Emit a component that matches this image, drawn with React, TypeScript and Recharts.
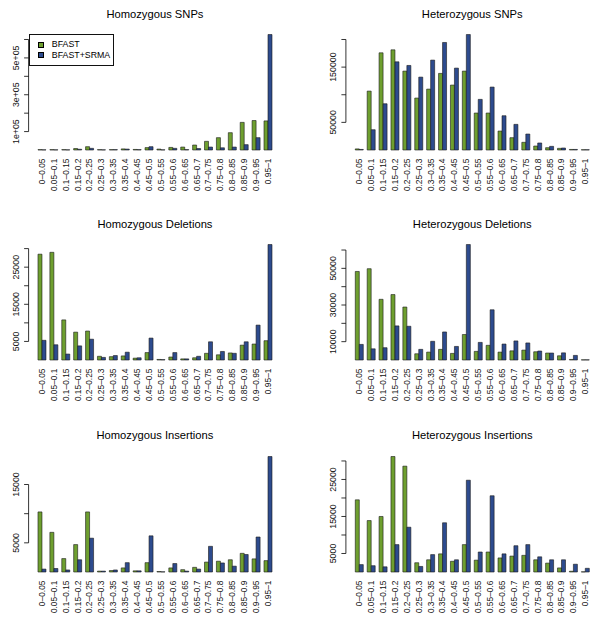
import React from 'react';
import { BarChart, Bar, XAxis, YAxis, ReferenceLine, Legend } from 'recharts';

const categories = [
  '0–0.05', '0.05–0.1', '0.1–0.15', '0.15–0.2', '0.2–0.25', '0.25–0.3', '0.3–0.35',
  '0.35–0.4', '0.4–0.45', '0.45–0.5', '0.5–0.55', '0.55–0.6', '0.6–0.65', '0.65–0.7',
  '0.7–0.75', '0.75–0.8', '0.8–0.85', '0.85–0.9', '0.9–0.95', '0.95–1',
];

const seriesNames = ['BFAST', 'BFAST+SRMA'];
const seriesColors = ['#6e9f2f', '#2d4b8e'];

// Homozygous SNPs
const homSnpBfast = [2000, 2000, 2000, 8000, 18000, 2000, 2000, 6000, 3000, 13000, 5000, 14000, 16000, 27000, 47000, 67000, 94000, 150000, 160000, 158000];
const homSnpSrma = [1000, 1000, 1000, 4000, 9000, 1000, 2000, 5000, 2000, 18000, 1000, 9000, 2000, 8000, 16000, 12000, 16000, 29000, 67000, 627000];
const homSnpTicks = [100000, 200000, 300000, 400000, 500000, 600000];
const homSnpTickLabels = ['1e+05', '', '3e+05', '', '5e+05', ''];

// Heterozygous SNPs
const hetSnpBfast = [2000, 106600, 175900, 181300, 142800, 94000, 110200, 138600, 117500, 142800, 66900, 66900, 34300, 22300, 13900, 7200, 4200, 3000, 1000, 500];
const hetSnpSrma = [1000, 36700, 83700, 159600, 153000, 131900, 162700, 194600, 148200, 209000, 91600, 113900, 62000, 46400, 28900, 12700, 6600, 3600, 1000, 500];
const hetSnpTicks = [50000, 100000, 150000, 200000];
const hetSnpTickLabels = ['50000', '', '150000', ''];

// Homozygous Deletions
const homDelBfast = [28500, 29000, 10800, 7500, 7800, 1000, 900, 1100, 500, 2000, 150, 800, 300, 600, 1800, 1400, 1900, 4000, 4300, 5200];
const homDelSrma = [5300, 4100, 1600, 3800, 5600, 700, 1200, 2100, 600, 5900, 100, 2000, 300, 1000, 4900, 2300, 1800, 4900, 9400, 31100];
const homDelTicks = [5000, 10000, 15000, 20000, 25000, 30000];
const homDelTickLabels = ['5000', '', '15000', '', '25000', ''];

// Heterozygous Deletions
const hetDelBfast = [48300, 49800, 33100, 35700, 28900, 3400, 4300, 5800, 3600, 13900, 4700, 8000, 4300, 5000, 5400, 4500, 3800, 2300, 300, 100];
const hetDelSrma = [8500, 6100, 6700, 18600, 18400, 5800, 10200, 15300, 7400, 63000, 9600, 27400, 8700, 10400, 9300, 4900, 3800, 3900, 2500, 100];
const hetDelTicks = [10000, 20000, 30000, 40000, 50000, 60000];
const hetDelTickLabels = ['10000', '', '30000', '', '50000', ''];

// Homozygous Insertions
const homInsBfast = [10300, 6800, 2300, 4700, 10300, 150, 250, 700, 200, 1600, 80, 700, 400, 800, 1700, 1850, 2100, 3200, 2250, 1950];
const homInsSrma = [500, 600, 350, 2100, 5800, 150, 350, 1600, 200, 6200, 30, 1450, 150, 500, 4400, 1550, 1000, 3000, 6000, 19800];
const homInsTicks = [5000, 10000, 15000];
const homInsTickLabels = ['5000', '', '15000'];

// Heterozygous Insertions
const hetInsBfast = [19500, 13900, 15000, 31200, 28600, 2500, 3300, 4900, 2900, 7400, 3200, 5400, 3800, 4300, 4500, 3300, 2400, 1100, 200, 50];
const hetInsSrma = [2000, 1700, 1400, 7400, 12100, 1500, 4700, 13300, 3300, 24800, 5400, 20600, 4900, 7100, 7400, 4100, 3300, 3300, 2100, 1000];
const hetInsTicks = [5000, 10000, 15000, 20000, 25000, 30000];
const hetInsTickLabels = ['5000', '', '15000', '', '25000', ''];

const FONT = '"Liberation Sans", Arial, Helvetica, sans-serif';
const PANEL_W = 300;
const PANEL_H = 210;
const PLOT_TOP = 29.9;
const BASELINE = 150;
const XAXIS_H = 50;
const PAD_X = 7.4;

type PanelSpec = {
  title: string;
  bfast: number[];
  srma: number[];
  ticks: number[];
  tickLabels: string[];
  left: number;
  top: number;
  plotLeft: number;
  plotRight: number;
  legend?: boolean;
};

const LEFT_COL = { plotLeft: 28.6, plotRight: 281.3 };
const RIGHT_COL = { plotLeft: 45.9, plotRight: 298.6 };

const panels: PanelSpec[] = [
  { title: 'Homozygous SNPs', bfast: homSnpBfast, srma: homSnpSrma, ticks: homSnpTicks, tickLabels: homSnpTickLabels, left: 0, top: 0, ...LEFT_COL, legend: true },
  { title: 'Heterozygous SNPs', bfast: hetSnpBfast, srma: hetSnpSrma, ticks: hetSnpTicks, tickLabels: hetSnpTickLabels, left: 300, top: 0, ...RIGHT_COL },
  { title: 'Homozygous Deletions', bfast: homDelBfast, srma: homDelSrma, ticks: homDelTicks, tickLabels: homDelTickLabels, left: 0, top: 210, ...LEFT_COL },
  { title: 'Heterozygous Deletions', bfast: hetDelBfast, srma: hetDelSrma, ticks: hetDelTicks, tickLabels: hetDelTickLabels, left: 300, top: 210, ...RIGHT_COL },
  { title: 'Homozygous Insertions', bfast: homInsBfast, srma: homInsSrma, ticks: homInsTicks, tickLabels: homInsTickLabels, left: 0, top: 421.5, ...LEFT_COL },
  { title: 'Heterozygous Insertions', bfast: hetInsBfast, srma: hetInsSrma, ticks: hetInsTicks, tickLabels: hetInsTickLabels, left: 300, top: 421.5, ...RIGHT_COL },
];

const XTick = (props: any) => {
  const { x, y, payload } = props;
  const ty = y + 8.5;
  return (
    <text
      x={x}
      y={ty}
      dy="0.35em"
      transform={`rotate(-90 ${x} ${ty})`}
      textAnchor="end"
      fontSize={8.4}
      fontFamily={FONT}
      fill="#111"
    >
      {payload.value}
    </text>
  );
};

const makeYTick = (ticks: number[], labels: string[]) => (props: any) => {
  const { x, y, payload } = props;
  const idx = ticks.indexOf(payload.value);
  const label = idx >= 0 ? labels[idx] : '';
  const lx = x - 10;
  return (
    <g>
      <line x1={x - 4.5} x2={x} y1={y} y2={y} stroke="#000" strokeWidth={0.8} />
      {label ? (
        <text
          x={lx}
          y={y}
          transform={`rotate(-90 ${lx} ${y})`}
          textAnchor="middle"
          fontSize={8.8}
          fontFamily={FONT}
          fill="#111"
        >
          {label}
        </text>
      ) : null}
    </g>
  );
};

const LegendBox = (props: any) => {
  const payload: any[] = props && props.payload && props.payload.length
    ? props.payload
    : seriesNames.map((n, i) => ({ value: n, color: seriesColors[i] }));
  return (
    <div
      style={{
        position: 'relative',
        width: 85,
        height: 32,
        boxSizing: 'border-box',
        border: '1px solid #111',
        background: '#fff',
        fontFamily: FONT,
        fontSize: 8.8,
        color: '#000',
      }}
    >
      {payload.map((item: any, i: number) => (
        <div key={i}>
          <div
            style={{
              position: 'absolute',
              left: 7.5,
              top: 6.5 + i * 10.7,
              width: 6,
              height: 6,
              boxSizing: 'border-box',
              background: item.color,
              border: '0.6px solid #000',
            }}
          />
          <div
            style={{
              position: 'absolute',
              left: 21.5,
              top: 4 + i * 10.7,
              lineHeight: '11px',
              whiteSpace: 'nowrap',
            }}
          >
            {item.value}
          </div>
        </div>
      ))}
    </div>
  );
};

const Panel = ({ spec }: { spec: PanelSpec }) => {
  const data = categories.map((c, i) => ({ cat: c, bfast: spec.bfast[i], srma: spec.srma[i] }));
  const plotW = spec.plotRight - spec.plotLeft;
  const lastTick = spec.ticks[spec.ticks.length - 1];
  return (
    <div style={{ position: 'absolute', left: spec.left, top: spec.top, width: PANEL_W, height: PANEL_H }}>
      <div
        style={{
          position: 'absolute',
          left: spec.plotLeft,
          width: plotW,
          top: 8.5,
          textAlign: 'center',
          fontFamily: FONT,
          fontSize: 11.2,
          lineHeight: '11px',
          color: '#000',
          whiteSpace: 'nowrap',
        }}
      >
        {spec.title}
      </div>
      <BarChart
        width={PANEL_W}
        height={PANEL_H}
        data={data}
        margin={{ top: PLOT_TOP, right: PANEL_W - spec.plotRight, bottom: PANEL_H - BASELINE - XAXIS_H, left: 0 }}
        barCategoryGap="16.667%"
        barGap={0}
        style={{ position: 'absolute', left: 0, top: 0 }}
      >
        <XAxis
          dataKey="cat"
          interval={0}
          tick={<XTick />}
          tickLine={false}
          axisLine={false}
          tickSize={0}
          tickMargin={0}
          height={XAXIS_H}
          padding={{ left: PAD_X, right: PAD_X }}
        />
        <YAxis
          type="number"
          domain={[0, (m: number) => m * 1.04]}
          ticks={spec.ticks}
          interval={0}
          tick={makeYTick(spec.ticks, spec.tickLabels)}
          tickLine={false}
          axisLine={false}
          tickSize={0}
          tickMargin={0}
          width={spec.plotLeft}
        />
        <ReferenceLine
          segment={[
            { x: categories[0], y: spec.ticks[0] },
            { x: categories[0], y: lastTick },
          ]}
          position="start"
          ifOverflow="visible"
          stroke="#000"
          shape={(p: any) => (
            <line x1={p.x1 - PAD_X} y1={p.y1} x2={p.x2 - PAD_X} y2={p.y2} stroke="#000" strokeWidth={0.8} />
          )}
        />
        <Bar dataKey="bfast" name={seriesNames[0]} fill={seriesColors[0]} stroke="#1a1a1a" strokeWidth={0.6} isAnimationActive={false} />
        <Bar dataKey="srma" name={seriesNames[1]} fill={seriesColors[1]} stroke="#1a1a1a" strokeWidth={0.6} isAnimationActive={false} />
        {spec.legend ? (
          <Legend
            layout="vertical"
            align="center"
            verticalAlign="middle"
            wrapperStyle={{ left: 29.3, top: 34, width: 85, height: 32 }}
            content={<LegendBox />}
          />
        ) : null}
      </BarChart>
    </div>
  );
}

export default function App() {
  return (
    <div style={{ position: 'absolute', left: 0, top: 0, width: 600, height: 629, background: '#fff', overflow: 'hidden' }}>
      {panels.map((p) => (
        <Panel key={p.title} spec={p} />
      ))}
    </div>
  );
}
